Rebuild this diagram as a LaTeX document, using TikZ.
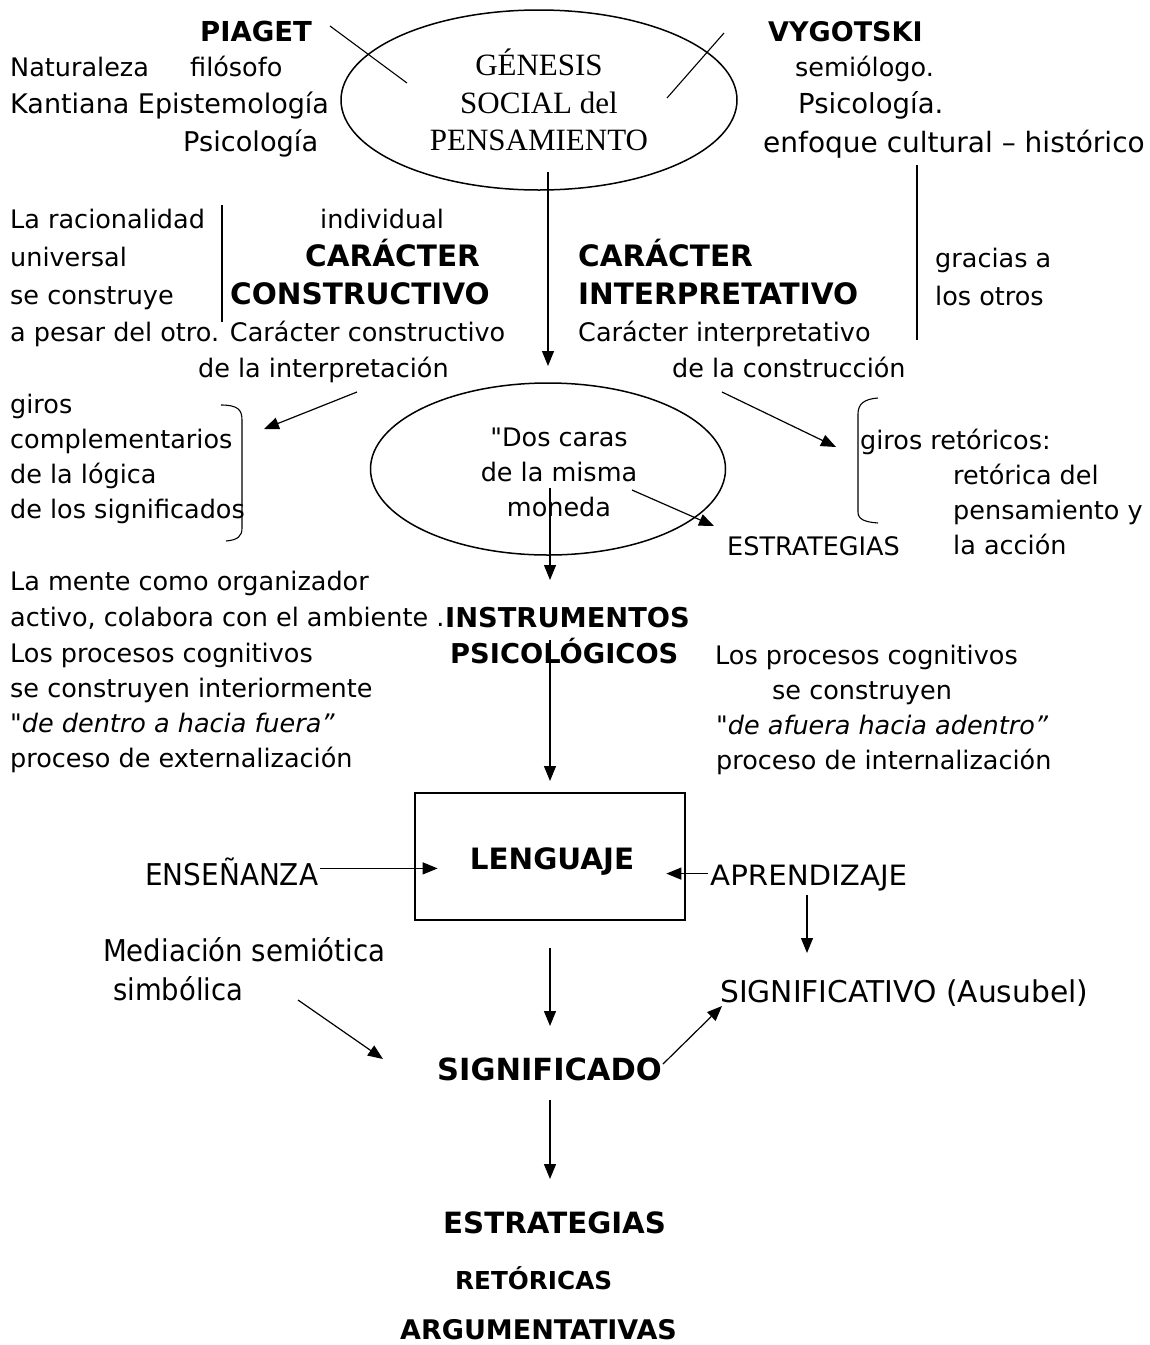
\documentclass[tikz,border=0pt]{standalone}
\usepackage{fontspec}
\usepackage{graphicx}
\setmainfont{DejaVu Sans}
\newfontfamily\serifel{Liberation Serif}
\usetikzlibrary{arrows.meta,shapes.geometric}
% squeeze a text to a given width, keeping its height
\newcommand\squeeze[2]{\resizebox{#1pt}{\height}{#2}}

\begin{document}
\begin{tikzpicture}[x=1pt,y=-1pt,
  txt/.style={anchor=base west,inner sep=0pt,font=\fontsize{25.5}{36}\selectfont},
  big/.style={anchor=base west,inner sep=0pt,font=\fontsize{#1}{36}\selectfont},
  itl/.style={txt,font=\fontsize{25.5}{36}\selectfont\itshape},
  bld/.style={anchor=base west,inner sep=0pt,font=\fontsize{#1}{#1}\selectfont\bfseries},
  cnd/.style={anchor=base west,inner sep=0pt,font=\fontsize{#1}{36}\selectfont},
  oval/.style={ellipse,draw,line width=1.5pt,inner sep=0pt},
  rule/.style={line width=1.1pt},
  arr/.style={line width=1.2pt,-{Triangle[length=15pt,width=12pt]}},
  brk/.style={line width=1.1pt},
]
\useasboundingbox (0,0) rectangle (1150,1345);
\fill[white] (0,0) rectangle (1150,1345);

% ---- central ovals ----
\node[oval,minimum width=396,minimum height=180,align=center,
      font=\fontsize{31}{37.5}\selectfont\serifel] (genesis) at (539,100)
      {GÉNESIS\\SOCIAL del\\PENSAMIENTO};
\node[oval,minimum width=355,minimum height=172] (moneda) at (548,469) {};
\node[align=center,inner sep=0pt,font=\fontsize{25.5}{35}\selectfont] (monedatxt) at (559,472)
      {\textquotedbl Dos caras\\de la misma\\moneda};

% ---- Piaget side ----
\node[bld=27.5] (piaget) at (200,41) {PIAGET};
\node[txt] (nat) at (10,76) {Naturaleza};
\node[txt] (filo) at (190,76) {filósofo};
\node[big=27] (kant) at (10,113) {Kantiana Epistemología};
\node[big=27.2] (psicp) at (183,151) {Psicología};

% ---- Vygotski side ----
\node[bld=27] (vygot) at (768,41) {VYGOTSKI};
\node[txt] (semio) at (795,76) {semiólogo.};
\node[big=27.5] (psicv) at (798,113) {Psicología.};
\node[big=28] (enfo) at (763,152) {enfoque cultural – histórico};

% ---- crossing strokes at the top ----
\coordinate (pa) at (330,26);  \coordinate (pb) at (407,83);
\coordinate (va) at (724,33);  \coordinate (vb) at (667,98);
\draw[rule] (pa) -- (pb);
\draw[rule] (va) -- (vb);

% ---- left column ----
\node[txt] (rac1) at (10,228) {La racionalidad};
\node[txt] (rac2) at (10,266) {universal};
\node[txt] (rac3) at (10,304) {se construye};
\node[txt] (rac4) at (10,341) {a pesar del otro. Carácter constructivo};
\coordinate (lva) at (222,205); \coordinate (lvb) at (222,322);
\draw[rule] (lva) -- (lvb);
\node[txt] (indiv) at (320,228) {individual};
\node[bld=29.5] (car1) at (305,266) {CARÁCTER};
\node[bld=29.5] (cons) at (230,304) {CONSTRUCTIVO};
\node[txt] (interp) at (198,377) {de la interpretación};

% ---- right column ----
\node[bld=29.5] (car2) at (578,266) {CARÁCTER};
\node[bld=29.5] (inter) at (578,304) {INTERPRETATIVO};
\node[txt] (cari) at (578,341) {Carácter interpretativo};
\node[txt] (constr) at (672,377) {de la construcción};
\coordinate (rva) at (917,165); \coordinate (rvb) at (917,340);
\draw[rule] (rva) -- (rvb);
\node[txt] (grac1) at (935,267) {gracias a};
\node[txt] (grac2) at (935,305) {los otros};

% ---- giros ----
\node[txt] (gc1) at (10,413) {giros};
\node[txt] (gc2) at (10,448) {complementarios};
\node[txt] (gc3) at (10,483) {de la lógica};
\node[txt] (gc4) at (10,518) {de los significados};
\draw[brk] (221,405) .. controls (238,405) and (242,410) .. (242,420)
           -- (242,528) .. controls (242,536) and (238,540) .. (226,541);
\node[txt] (gr1) at (860,449) {giros retóricos:};
\node[txt] (gr2) at (953,484) {retórica del};
\node[txt] (gr3) at (953,519) {pensamiento y};
\node[txt] (gr4) at (953,554) {la acción};
\node[txt] (estr1) at (727,555) {ESTRATEGIAS};
\draw[brk] (878,398) .. controls (864,399) and (858,404) .. (858,414)
           -- (858,512) .. controls (858,519) and (864,522) .. (878,523);

% ---- middle row of texts ----
\node[txt] (mt1) at (10,590) {La mente como organizador};
\node[txt] (mt2) at (10,626) {activo, colabora con el ambiente .};
\node[txt] (mt3) at (10,662) {Los procesos cognitivos};
\node[txt] (mt4) at (10,697) {se construyen interiormente};
\node[itl] (mt5) at (10,732) {\textquotedbl de dentro a hacia fuera”};
\node[txt] (mt6) at (10,767) {proceso de externalización};
\node[bld=27.3] (instr) at (445,627) {INSTRUMENTOS};
\node[bld=27.3] (psico) at (450,663) {PSICOLÓGICOS};
\node[txt] (pc1) at (715,664) {Los procesos cognitivos};
\node[txt] (pc2) at (772,699) {se construyen};
\node[itl] (pc3) at (716,734) {\textquotedbl de afuera hacia adentro”};
\node[txt] (pc4) at (716,769) {proceso de internalización};

% ---- lenguaje ----
\node[draw,line width=1.3pt,minimum width=270,minimum height=127,inner sep=0pt] (box) at (550,856.5) {};
\node[font=\fontsize{29.4}{30}\selectfont\bfseries,inner xsep=32pt,inner ysep=2pt] (leng) at (552,862) {LENGUAJE};
\node[cnd=30] (ense) at (145,885) {\squeeze{173}{ENSEÑANZA}};
\node[cnd=28] (apre) at (710,885) {\squeeze{197}{APRENDIZAJE}};
\node[cnd=30] (med1) at (103,961) {\squeeze{282}{Mediación semiótica}};
\node[cnd=30] (med2) at (113,1000) {\squeeze{130}{simbólica}};
\node[cnd=30] (sigv) at (720,1002) {\squeeze{368}{SIGNIFICATIVO (Ausubel)}};
\node[bld=30.5] (sigd) at (437,1080) {SIGNIFICADO};

% ---- bottom ----
\node[bld=29.3] (es) at (443,1233) {ESTRATEGIAS};
\node[bld=24.7] (re) at (455,1289) {RETÓRICAS};
\node[bld=27] (ar) at (400,1339) {ARGUMENTATIVAS};

% ---- arrows ----
\coordinate (a1s) at (548,172);  \coordinate (a1e) at (548,366);
\draw[arr] (a1s) -- (a1e);
\coordinate (a2s) at (357,392);  \coordinate (a2e) at (264,429);
\draw[arr] (a2s) -- (a2e);
\coordinate (a3s) at (722,392);  \coordinate (a3e) at (836,447);
\draw[arr] (a3s) -- (a3e);
\coordinate (a4s) at (632,490);  \coordinate (a4e) at (714,526);
\draw[arr] (a4s) -- (a4e);
\coordinate (a5s) at (550,488);  \coordinate (a5e) at (550,580);
\draw[arr] (a5s) -- (a5e);
\coordinate (a6s) at (550,640);  \coordinate (a6e) at (550,781);
\draw[arr] (a6s) -- (a6e);
\draw[arr] (ense.east) ++(2,-3) coordinate (a7s) -- (leng.west |- a7s);
\draw[arr] (apre.west) ++(-2,-4) coordinate (a8s) -- (leng.east |- a8s);
\coordinate (a9s) at (807,895);  \coordinate (a9e) at (807,953);
\draw[arr] (a9s) -- (a9e);
\coordinate (a10s) at (550,948); \coordinate (a10e) at (550,1026);
\draw[arr] (a10s) -- (a10e);
\coordinate (a11s) at (298,1000); \coordinate (a11e) at (383,1059);
\draw[arr] (a11s) -- (a11e);
\coordinate (a12s) at (663,1064); \coordinate (a12e) at (722,1006);
\draw[arr] (a12s) -- (a12e);
\coordinate (a13s) at (550,1100); \coordinate (a13e) at (550,1179);
\draw[arr] (a13s) -- (a13e);
\end{tikzpicture}
\end{document}
